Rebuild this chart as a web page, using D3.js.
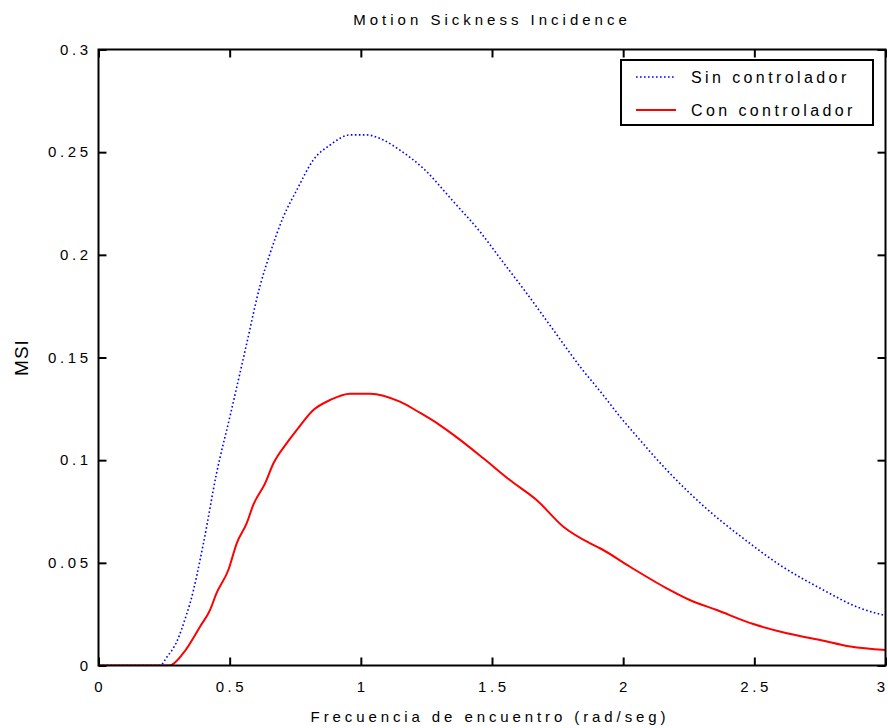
<!DOCTYPE html>
<html><head><meta charset="utf-8">
<script src="https://cdn.jsdelivr.net/npm/d3@7/dist/d3.min.js"></script>
<style>
html,body{margin:0;padding:0;background:#fff;}
text{font-family:"Liberation Sans",Arial,Helvetica,sans-serif;fill:#000;}
</style></head>
<body><svg id="c" width="888" height="728"></svg>
<script>
const title = "Motion Sickness Incidence";
const xLabel = "Frecuencia de encuentro (rad/seg)";
const yLabel = "MSI";
const seriesNames = ["Sin controlador", "Con controlador"];
const xTicks = [0, 0.5, 1, 1.5, 2, 2.5, 3];
const yTicks = [0, 0.05, 0.1, 0.15, 0.2, 0.25, 0.3];
const xTickLabels = ["0", "0.5", "1", "1.5", "2", "2.5", "3"];
const yTickLabels = ["0", "0.05", "0.1", "0.15", "0.2", "0.25", "0.3"];

const sinX = [0, 0.235, 0.26, 0.298, 0.336, 0.349, 0.40, 0.45, 0.501, 0.56, 0.616, 0.654, 0.705, 0.756, 0.819, 0.883, 0.959, 1.022, 1.086, 1.149, 1.238, 1.353, 1.454, 1.531, 1.632, 1.734, 1.836, 1.918, 1.988, 2.064, 2.166, 2.331, 2.458, 2.598, 2.751, 2.904, 3.0];
const sinY = [0, 0, 0.004, 0.0115, 0.025, 0.0303, 0.0595, 0.0936, 0.1212, 0.154, 0.185, 0.2007, 0.2186, 0.2316, 0.2462, 0.2535, 0.2584, 0.2584, 0.2559, 0.251, 0.2421, 0.2259, 0.2113, 0.1983, 0.1813, 0.1634, 0.1455, 0.1326, 0.1212, 0.1098, 0.0952, 0.0749, 0.0619, 0.0489, 0.0376, 0.0279, 0.0243];

const conX = [0, 0.27, 0.323, 0.387, 0.425, 0.45, 0.495, 0.527, 0.565, 0.59, 0.635, 0.667, 0.717, 0.756, 0.819, 0.883, 0.959, 1.035, 1.149, 1.225, 1.301, 1.366, 1.467, 1.568, 1.670, 1.772, 1.874, 1.912, 2.026, 2.166, 2.254, 2.357, 2.496, 2.624, 2.751, 2.866, 3.0];
const conY = [0, 0, 0.006, 0.0189, 0.027, 0.0352, 0.0465, 0.0595, 0.0693, 0.0782, 0.0887, 0.0985, 0.1082, 0.1147, 0.1244, 0.1293, 0.1324, 0.1324, 0.1285, 0.1231, 0.1171, 0.1111, 0.1009, 0.0903, 0.0806, 0.0676, 0.0595, 0.0571, 0.0481, 0.0376, 0.0319, 0.027, 0.0202, 0.0157, 0.0124, 0.0092, 0.0075];

const svg = d3.select("#c");
const L = 98.5, R = 885.5, T = 49.5, B = 665.5;
const x = d3.scaleLinear().domain([0, 3]).range([L, R]);
const y = d3.scaleLinear().domain([0, 0.3]).range([B, T]);

svg.append("defs").append("clipPath").attr("id","clip")
  .append("rect").attr("x",L).attr("y",T-2).attr("width",R-L).attr("height",B-T+2);

const line = d3.line().x(d=>x(d[0])).y(d=>y(d[1])).curve(d3.curveMonotoneX);
const g = svg.append("g").attr("clip-path","url(#clip)");
g.append("path").datum(sinX.map((v,i)=>[v,sinY[i]]))
  .attr("d",line).attr("fill","none").attr("stroke","#0000ff")
  .attr("stroke-width",1.6).attr("stroke-dasharray","1.6,2.4");
g.append("path").datum(conX.map((v,i)=>[v,conY[i]]))
  .attr("d",line).attr("fill","none").attr("stroke","#ff0000")
  .attr("stroke-width",2);

// axes (ticks inward, mirrored)
const tl = 8;
const axB = d3.axisTop(x).tickValues(xTicks).tickSize(tl).tickFormat("");
const axT = d3.axisBottom(x).tickValues(xTicks).tickSize(tl).tickFormat("");
const axL = d3.axisRight(y).tickValues(yTicks).tickSize(tl).tickFormat("");
const axR = d3.axisLeft(y).tickValues(yTicks).tickSize(tl).tickFormat("");
[[axB,`translate(0,${B})`],[axT,`translate(0,${T})`],[axL,`translate(${L},0)`],[axR,`translate(${R},0)`]].forEach(([a,t])=>{
  const gg = svg.append("g").attr("transform",t).call(a);
  gg.select(".domain").remove();
  gg.selectAll("line").attr("stroke","#000").attr("stroke-width",2);
});
svg.append("rect").attr("x",L).attr("y",T).attr("width",R-L).attr("height",B-T)
  .attr("fill","none").attr("stroke","#000").attr("stroke-width",2);

// tick labels
const fs = 15, ls = 3.6;
svg.append("g").selectAll("text").data(xTicks).join("text")
  .attr("x",d=>Math.min(x(d), 881)).attr("y",692).attr("text-anchor","middle")
  .attr("font-size",fs).attr("letter-spacing",ls)
  .attr("dx", ls/2)
  .text((d,i)=>xTickLabels[i]);
svg.append("g").selectAll("text").data(yTicks).join("text")
  .attr("x",88+ls).attr("y",d=>y(d)+5).attr("text-anchor","end")
  .attr("font-size",fs).attr("letter-spacing",ls)
  .text((d,i)=>yTickLabels[i]);

svg.append("text").attr("x",(L+R)/2).attr("y",25).attr("text-anchor","middle")
  .attr("font-size",fs).attr("letter-spacing",4).text(title);
svg.append("text").attr("x",(L+R)/2 - 2).attr("y",722).attr("text-anchor","middle")
  .attr("font-size",fs).attr("letter-spacing",3.9).text(xLabel);
svg.append("text").attr("transform",`translate(28,${(T+B)/2}) rotate(-90)`)
  .attr("text-anchor","middle").attr("font-size",19).attr("letter-spacing",1).text(yLabel);

// legend
const lg = svg.append("g");
lg.append("rect").attr("x",621).attr("y",60).attr("width",252).attr("height",65)
  .attr("fill","#fff").attr("stroke","#000").attr("stroke-width",2);
const ly = [77, 110];
lg.append("line").attr("x1",636).attr("x2",676).attr("y1",ly[0]).attr("y2",ly[0])
  .attr("stroke","#0000ff").attr("stroke-width",1.6).attr("stroke-dasharray","1.6,2.4");
lg.append("line").attr("x1",636).attr("x2",676).attr("y1",ly[1]).attr("y2",ly[1])
  .attr("stroke","#ff0000").attr("stroke-width",2);
seriesNames.forEach((n,i)=>{
  lg.append("text").attr("x",691).attr("y",ly[i]+6).attr("font-size",16)
    .attr("letter-spacing",3.4).text(n);
});
</script></body></html>
